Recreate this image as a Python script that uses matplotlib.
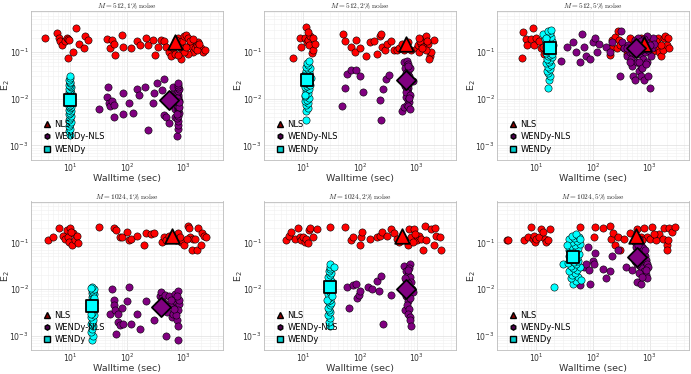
import matplotlib
matplotlib.use("Agg")
import matplotlib.pyplot as plt
from matplotlib.lines import Line2D
from matplotlib.ticker import NullFormatter
import numpy as np

plt.rcParams['font.family'] = ['DejaVu Sans']
plt.rcParams['mathtext.fontset'] = 'dejavusans'

titles = [r"$M = 512, 1\%\ \mathrm{noise}$", r"$M = 512, 2\%\ \mathrm{noise}$", r"$M = 512, 5\%\ \mathrm{noise}$",
          r"$M = 1024, 1\%\ \mathrm{noise}$", r"$M = 1024, 2\%\ \mathrm{noise}$", r"$M = 1024, 5\%\ \mathrm{noise}$"]
legend_labels = ["NLS", "WENDy-NLS", "WENDy"]

# ---------------- Panel 1: M=512, 1% ----------------
p1_nls = [(3.5,0.20),(5.7,0.26),(6.3,0.20),(6.5,0.17),(7.0,0.14),(8.0,0.17),(8.5,0.20),(9.0,0.19),(9.5,0.18),(9.0,0.075),
          (11,0.10),(12.5,0.32),(14,0.15),(17,0.12),(18,0.22),(20,0.18),(45,0.19),(50,0.12),(55,0.18),(60,0.15),(62,0.085),
          (80,0.23),(85,0.13),(120,0.12),(150,0.17),(170,0.14),(220,0.20),(240,0.14),(290,0.18),(310,0.085),(350,0.13),
          (400,0.18),(450,0.17),(500,0.13),(550,0.10),(600,0.08),(650,0.12),(700,0.09),(750,0.14),(800,0.20),(850,0.16),
          (900,0.12),(950,0.17),(1000,0.22),(1100,0.23),(1200,0.20),(1300,0.15),(1400,0.13),(1500,0.10),(1600,0.12),
          (1700,0.14),(1800,0.16),(2000,0.12),(2200,0.10),(2400,0.11),(1200,0.09),(900,0.07),(1000,0.10),(1300,0.17),
          (1500,0.19),(750,0.18),(800,0.085),(1100,0.13),(1700,0.11),(1900,0.15)]
p1_wnls = [(32,0.006),(45,0.011),(46,0.018),(48,0.008),(50,0.007),(55,0.009),(60,0.004),(60,0.0075),(85,0.013),(85,0.0048),
           (110,0.008),(130,0.005),(150,0.016),(160,0.012),(210,0.018),(240,0.0021),(290,0.008),(300,0.013),(340,0.022),
           (420,0.015),(450,0.026),(450,0.0045),(500,0.004),(560,0.003),(580,0.0075),(600,0.0125),(650,0.008),(700,0.006),
           (720,0.009),(700,0.004),(640,0.018),(780,0.0016),(790,0.0022),(800,0.0027),(810,0.0033),(780,0.0038),(800,0.0043),
           (820,0.005),(790,0.0056),(800,0.0062),(810,0.0068),(780,0.0075),(800,0.0082),(820,0.009),(790,0.0098),(800,0.011),
           (810,0.012),(780,0.013),(800,0.0145),(820,0.016),(790,0.018),(800,0.020),(810,0.022),(760,0.0105),(830,0.0065),
           (770,0.0047),(840,0.0085)]
p1_wendy = [(9.8,0.0017),(9.6,0.0020),(10.0,0.0023),(9.5,0.0026),(9.9,0.0029),(10.2,0.0032),(9.4,0.0035),(9.8,0.0038),
            (10.1,0.0042),(9.6,0.0046),(9.9,0.0050),(10.3,0.0054),(9.5,0.0058),(9.8,0.0062),(10.1,0.0066),(9.4,0.0070),
            (9.7,0.0075),(10.0,0.0080),(9.6,0.0085),(10.2,0.0090),(9.5,0.0096),(9.9,0.0102),(10.1,0.0108),(9.6,0.0115),
            (9.8,0.0122),(10.2,0.0130),(9.5,0.0138),(9.9,0.0146),(10.0,0.0155),(9.6,0.0165),(10.2,0.0175),(9.8,0.0188),
            (9.5,0.0200),(10.0,0.0215),(9.8,0.0230),(9.6,0.0250),(10.0,0.0275),(9.8,0.0300)]
p1_med = [(700,0.16),(550,0.0095),(9.8,0.0095)]

# ---------------- Panel 2: M=512, 2% ----------------
p2_nls = [(6.5,0.075),(8.5,0.20),(9,0.13),(10.5,0.20),(11,0.34),(11.5,0.16),(12,0.18),(12.5,0.14),(13,0.22),(14,0.095),
          (14.5,0.11),(15,0.20),(16,0.15),(12.2,0.27),(50,0.24),(55,0.17),(70,0.13),(80,0.10),(85,0.18),(100,0.12),(130,0.08),
          (150,0.16),(180,0.17),(200,0.09),(230,0.22),(240,0.24),(250,0.13),(280,0.11),(300,0.15),(350,0.17),(400,0.11),
          (450,0.11),(500,0.12),(550,0.15),(600,0.11),(700,0.16),(800,0.11),(1000,0.12),(1050,0.14),(1100,0.10),(1200,0.15),
          (1300,0.19),(1400,0.20),(1500,0.22),(1600,0.15),(1700,0.08),(1800,0.10),(2000,0.18),(1150,0.17),(1300,0.13),
          (1450,0.11),(1650,0.07),(1250,0.12),(1550,0.17),(1100,0.20)]
p2_wnls = [(48,0.007),(55,0.017),(58,0.034),(70,0.042),(85,0.042),(100,0.030),(115,0.014),(230,0.0095),(240,0.0035),
           (260,0.016),(290,0.026),(320,0.032),(560,0.0055),(600,0.0065),(600,0.060),(620,0.045),(650,0.030),(700,0.020),
           (680,0.065),(720,0.055),(700,0.040),(650,0.035),(690,0.028),(740,0.024),(660,0.020),(710,0.017),(680,0.015),
           (720,0.013),(650,0.011),(700,0.0095),(730,0.0085),(680,0.0075),(720,0.007),(760,0.006),(640,0.014),(750,0.030),
           (800,0.025),(850,0.024),(780,0.045),(700,0.050),(620,0.019),(760,0.012),(740,0.0105)]
p2_wendy = [(11.0,0.0035),(11.2,0.0055),(11.8,0.0062),(11.0,0.0072),(12.0,0.0080),(10.8,0.0088),(11.5,0.0095),(12.3,0.0105),
            (10.6,0.0115),(11.2,0.0125),(12.0,0.0135),(10.9,0.0145),(11.7,0.0155),(12.5,0.0165),(10.7,0.0178),(11.4,0.0190),
            (12.2,0.0205),(10.9,0.0220),(11.8,0.0235),(12.6,0.0250),(10.6,0.0270),(11.3,0.0290),(12.1,0.0310),(10.8,0.0330),
            (11.6,0.0350),(12.4,0.0370),(11.0,0.0400),(11.9,0.0430),(13.0,0.0450),(11.3,0.0480),(12.2,0.0520),(11.6,0.0580),
            (12.4,0.0650),(10.5,0.0120),(13.2,0.0200),(10.4,0.0300),(13.5,0.0280)]
p2_med = [(650,0.15),(650,0.025),(11.5,0.025)]

# ---------------- Panel 3: M=512, 5% ----------------
p3_nls = [(5.5,0.075),(5.7,0.27),(6.5,0.19),(6.8,0.14),(8,0.19),(8.5,0.32),(9,0.14),(10,0.20),(11,0.17),(12,0.12),(13,0.13),
          (13.5,0.09),(200,0.085),(210,0.12),(220,0.18),(250,0.21),(270,0.12),(280,0.28),(290,0.18),(300,0.14),(350,0.12),
          (400,0.09),(500,0.15),(700,0.20),(800,0.16),(900,0.12),(1000,0.17),(1100,0.13),(1200,0.15),(1300,0.12),(1400,0.20),
          (1500,0.10),(1600,0.08),(1700,0.11),(1800,0.20),(1900,0.22),(2000,0.14),(2200,0.12),(1300,0.17),(1600,0.14),
          (2100,0.20),(1100,0.10),(600,0.17),(450,0.20)]
p3_wnls = [(27,0.065),(35,0.13),(45,0.16),(50,0.10),(65,0.24),(60,0.06),(70,0.13),(75,0.08),(90,0.07),(100,0.16),(110,0.20),
           (120,0.10),(130,0.15),(170,0.13),(200,0.10),(220,0.16),(300,0.03),(310,0.28),(320,0.16),(350,0.12),(400,0.08),
           (420,0.14),(450,0.10),(480,0.07),(500,0.05),(520,0.03),(550,0.025),(560,0.18),(600,0.06),(620,0.20),(650,0.04),
           (680,0.09),(700,0.05),(720,0.03),(750,0.13),(780,0.07),(800,0.025),(820,0.10),(850,0.16),(900,0.06),(950,0.03),
           (1000,0.017),(1050,0.08),(1100,0.12),(1150,0.20),(1200,0.15),(900,0.22),(700,0.11),(600,0.13),(550,0.09),
           (650,0.06),(750,0.045),(850,0.055),(950,0.11),(1000,0.14),(800,0.19),(700,0.17),(500,0.10),(450,0.06),(400,0.12)]
p3_wendy = [(16,0.017),(16.5,0.025),(17,0.031),(16,0.036),(15.5,0.040),(17.5,0.044),(16,0.048),(18,0.052),(15,0.057),
            (16.5,0.062),(17.5,0.067),(15.5,0.072),(18.5,0.077),(16,0.082),(17,0.088),(14.5,0.094),(18,0.10),(15.5,0.107),
            (17,0.114),(19,0.12),(14.8,0.128),(16.3,0.136),(18,0.145),(15,0.155),(17.5,0.165),(19,0.175),(14,0.185),(16,0.195),
            (18,0.21),(15.5,0.225),(13,0.24),(17,0.26),(16,0.28),(18,0.30),(19.5,0.14),(14.5,0.20),(19,0.09)]
p3_med = [(800,0.15),(580,0.12),(17,0.12)]

# ---------------- Panel 4: M=1024, 1% ----------------
p4_nls = [(4,0.11),(5,0.13),(6.3,0.20),(7.5,0.14),(8,0.12),(8.5,0.18),(9,0.13),(9.5,0.10),(10,0.20),(10.5,0.09),(11,0.16),
          (12,0.11),(13,0.14),(13.5,0.095),(10.2,0.17),(32,0.21),(60,0.20),(65,0.18),(75,0.13),(80,0.13),(100,0.17),(110,0.11),
          (120,0.12),(150,0.14),(200,0.09),(220,0.16),(270,0.15),(300,0.16),(420,0.10),(450,0.13),(500,0.11),(550,0.14),
          (700,0.13),(750,0.11),(800,0.16),(900,0.10),(1000,0.09),(1200,0.22),(1250,0.20),(1300,0.13),(1400,0.07),
          (1500,0.12),(1700,0.07),(1800,0.20),(2000,0.09),(2100,0.16),(2300,0.14),(2500,0.13),(1600,0.12),(850,0.13),
          (1150,0.12)]
p4_wnls = [(50,0.003),(55,0.010),(58,0.006),(60,0.0045),(62,0.0035),(65,0.0011),(68,0.002),(70,0.003),(75,0.0017),(80,0.004),
           (85,0.0018),(100,0.0055),(110,0.011),(120,0.0018),(150,0.003),(170,0.0014),(220,0.0055),(300,0.0022),(350,0.0045),
           (380,0.007),(400,0.0085),(420,0.0065),(450,0.005),(470,0.0075),(500,0.001),(520,0.0032),(550,0.007),(600,0.0045),
           (620,0.0026),(650,0.003),(700,0.008),(720,0.0055),(750,0.004),(780,0.0022),(800,0.0008),(800,0.009),(760,0.0065),
           (820,0.0048),(790,0.0035),(740,0.0028),(830,0.006),(810,0.0016),(770,0.0072),(600,0.006),(680,0.0038)]
p4_wendy = [(24,0.0008),(25,0.0010),(23.5,0.0012),(24.5,0.0014),(25.5,0.0016),(23,0.0018),(24,0.0020),(25,0.0022),
            (23.5,0.0025),(26,0.0028),(24.5,0.0031),(23,0.0034),(25.5,0.0037),(24,0.0040),(25,0.0045),(23.2,0.0049),
            (26,0.0053),(24.3,0.0057),(25.2,0.0062),(23.6,0.0067),(24.8,0.0072),(26.2,0.0077),(23.8,0.0083),(25.4,0.0089),
            (24.2,0.0095),(25.7,0.0102),(24.5,0.0110),(22.8,0.0105),(26.5,0.0065),(22.6,0.0030)]
p4_med = [(620,0.14),(400,0.0042),(24,0.0043)]

# ---------------- Panel 5: M=1024, 2% ----------------
p5_nls = [(5,0.11),(5.5,0.14),(6,0.17),(7,0.12),(8,0.20),(8.5,0.13),(9,0.11),(10,0.13),(10.5,0.10),(11,0.12),(12,0.095),
          (12.5,0.18),(13,0.20),(15,0.13),(17,0.19),(30,0.21),(55,0.21),(70,0.11),(75,0.13),(100,0.09),(105,0.13),(110,0.17),
          (150,0.12),(200,0.13),(230,0.14),(250,0.17),(300,0.14),(350,0.19),(400,0.16),(450,0.12),(500,0.10),(600,0.12),
          (700,0.09),(750,0.19),(800,0.13),(900,0.19),(1000,0.11),(1100,0.14),(1200,0.12),(1300,0.07),(1400,0.23),
          (1500,0.11),(1800,0.19),(2000,0.09),(2100,0.20),(2200,0.14),(2600,0.13),(2700,0.07),(850,0.10),(950,0.15)]
p5_wnls = [(60,0.011),(65,0.004),(75,0.012),(85,0.013),(90,0.0065),(95,0.0075),(100,0.009),(140,0.011),(160,0.010),
           (200,0.015),(220,0.009),(240,0.019),(260,0.0018),(350,0.0075),(600,0.032),(620,0.0035),(640,0.024),(660,0.016),
           (680,0.012),(700,0.0085),(650,0.007),(720,0.0055),(680,0.0045),(740,0.0038),(700,0.003),(760,0.0025),(780,0.0022),
           (800,0.0016),(760,0.035),(740,0.028),(700,0.020),(780,0.018),(800,0.014),(820,0.010),(760,0.0095),(720,0.0135),
           (850,0.0085),(640,0.0105),(780,0.0065),(700,0.026),(620,0.0175)]
p5_wendy = [(29,0.0016),(28,0.0020),(29.5,0.0024),(27.5,0.0028),(30,0.0032),(28.5,0.0036),(27,0.0040),(29,0.0045),(31,0.0050),
            (27.5,0.0055),(29.5,0.0060),(28,0.0066),(30.5,0.0072),(27,0.0078),(29,0.0085),(31,0.0092),(28,0.010),(30,0.011),
            (27.5,0.012),(29.5,0.013),(31.5,0.014),(28,0.015),(30,0.0165),(27,0.018),(29,0.020),(31,0.022),(28.5,0.024),
            (30,0.027),(29,0.030),(30,0.034),(35,0.030),(26.5,0.006),(32,0.007)]
p5_med = [(550,0.14),(650,0.010),(29,0.011)]

# ---------------- Panel 6: M=1024, 5% ----------------
p6_nls = [(3,0.11),(3.1,0.11),(6,0.11),(7,0.13),(8,0.21),(8.5,0.12),(9,0.14),(9.5,0.10),(10,0.12),(11,0.13),(12,0.19),(13,0.17),
          (14,0.12),(15,0.10),(16,0.11),(17,0.19),(60,0.21),(105,0.13),(110,0.21),(150,0.20),(200,0.23),(210,0.12),(230,0.16),
          (250,0.09),(280,0.13),(300,0.07),(350,0.12),(450,0.16),(600,0.19),(700,0.13),(800,0.20),(900,0.13),(1000,0.12),
          (1100,0.21),(1300,0.11),(1500,0.15),(1700,0.12),(1800,0.20),(2000,0.09),(2050,0.07),(2200,0.20),(2500,0.17),
          (2800,0.21),(2100,0.11),(750,0.11),(1200,0.15)]
p6_wnls = [(60,0.012),(70,0.030),(75,0.035),(80,0.080),(85,0.026),(90,0.013),(100,0.040),(105,0.035),(110,0.060),(150,0.027),
           (170,0.017),(200,0.025),(220,0.050),(280,0.070),(380,0.030),(500,0.026),(550,0.040),(600,0.014),(700,0.013),
           (560,0.10),(580,0.08),(620,0.065),(650,0.055),(700,0.045),(720,0.038),(680,0.032),(750,0.028),(800,0.024),
           (850,0.020),(900,0.017),(780,0.060),(820,0.050),(860,0.042),(900,0.035),(950,0.030),(640,0.12),(700,0.09),
           (760,0.075),(820,0.070),(600,0.035),(660,0.022),(740,0.018),(880,0.026),(620,0.09)]
p6_wendy = [(20,0.011),(30,0.035),(45,0.013),(50,0.015),(40,0.017),(55,0.018),(42,0.020),(48,0.022),(38,0.024),(53,0.026),
            (44,0.028),(58,0.030),(40,0.032),(50,0.034),(36,0.036),(46,0.038),(55,0.040),(41,0.043),(52,0.046),(38,0.050),
            (47,0.053),(57,0.056),(42,0.060),(50,0.064),(37,0.068),(45,0.072),(54,0.077),(40,0.082),(49,0.088),(58,0.094),
            (43,0.10),(52,0.108),(38,0.116),(47,0.125),(56,0.13),(42,0.14),(50,0.15),(60,0.12),(35,0.09),(62,0.016)]
p6_med = [(580,0.14),(600,0.048),(45,0.048)]

panels = [(p1_nls, p1_wnls, p1_wendy, p1_med), (p2_nls, p2_wnls, p2_wendy, p2_med), (p3_nls, p3_wnls, p3_wendy, p3_med),
          (p4_nls, p4_wnls, p4_wendy, p4_med), (p5_nls, p5_wnls, p5_wendy, p5_med), (p6_nls, p6_wnls, p6_wendy, p6_med)]

colors = ['#ff0000', '#800080', '#00ffff']
med_markers = ['^', 'D', 's']
med_sizes = [110, 95, 75]

W, H = 691, 374
fig = plt.figure(figsize=(W / 100, H / 100), dpi=100)
lefts = [31, 264, 497]
tops = [11, 201.5]
aw, ah = 192, 148.5

for i, (nls, wnls, wendy, med) in enumerate(panels):
    r, c = divmod(i, 3)
    ax = fig.add_axes([lefts[c] / W, 1 - (tops[r] + ah) / H, aw / W, ah / H])
    ax.set_xscale('log')
    ax.set_yscale('log')
    ax.set_xlim(2, 5000)
    ax.set_ylim(5e-4, 0.75)
    ax.set_axisbelow(True)
    ax.grid(True, which='major', color='#dedede', lw=0.5)
    ax.grid(True, which='minor', color='#efefef', lw=0.4)
    for s in ax.spines.values():
        s.set_color('#bdbdbd')
        s.set_linewidth(0.6)
    ax.set_xticks([10, 100, 1000])
    ax.set_yticks([1e-3, 1e-2, 1e-1])
    ax.xaxis.set_minor_formatter(NullFormatter())
    ax.yaxis.set_minor_formatter(NullFormatter())
    ax.tick_params(which='both', direction='in', length=0, labelsize=5.6, labelcolor='#333333', pad=1.5)

    for data, col in zip([nls, wnls, wendy], colors):
        t = [p[0] for p in data]
        e = [p[1] for p in data]
        ax.scatter(t, e, s=27, c=col, edgecolors='black', linewidths=0.4, zorder=3)
    for (mt, me), col, mk, ms in zip(med, colors, med_markers, med_sizes):
        ax.scatter([mt], [me], s=ms, c=col, marker=mk, edgecolors='black', linewidths=1.3, zorder=5)

    ax.set_title(titles[i], fontsize=5.3, pad=0.6, math_fontfamily='cm', color='#222222')
    ax.set_xlabel('Walltime (sec)', fontsize=6.8, color='#333333')
    ax.xaxis.set_label_coords(0.5, -14.0 / ah)
    ax.set_ylabel(r'E$_2$', fontsize=6.8, color='#333333')
    ax.yaxis.set_label_coords(-19.0 / aw, 0.5)

    handles = [Line2D([], [], ls='none', marker=m, markersize=3.8, markerfacecolor=col, markeredgecolor='black',
                      markeredgewidth=1.0) for m, col in zip(['^', 'h', 's'], ['#8b0000', '#4b004b', '#00cccc'])]
    ax.legend(handles, legend_labels, loc='lower left', bbox_to_anchor=(0.03, 0.0), frameon=False, fontsize=6.0,
              handletextpad=0.4, labelspacing=0.4, handlelength=1.0, borderaxespad=0.3)

fig.savefig('out.png', dpi=100)
